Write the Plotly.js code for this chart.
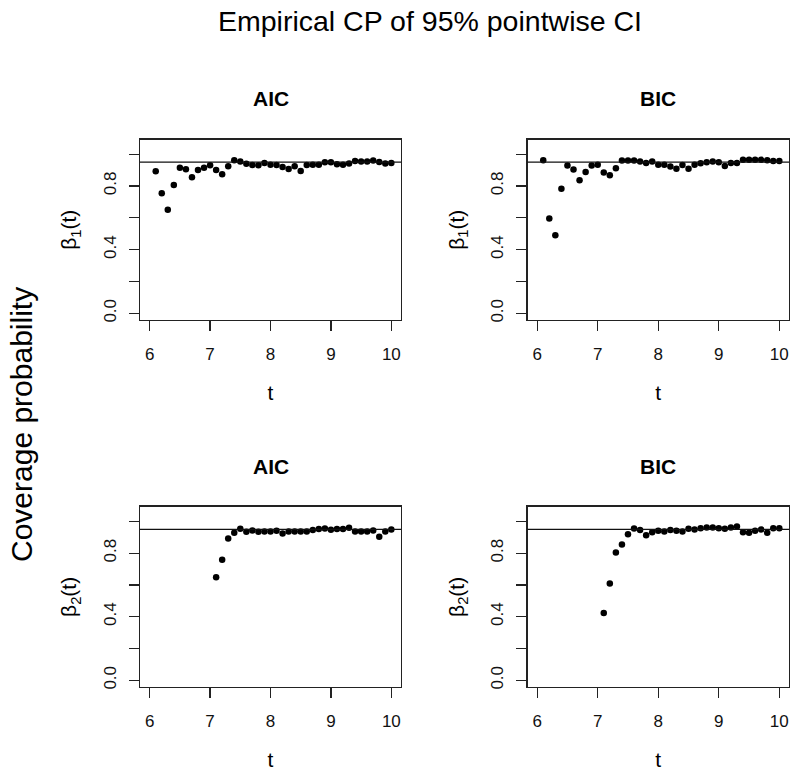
<!DOCTYPE html>
<html>
<head>
<meta charset="utf-8">
<script src="https://cdn.plot.ly/plotly-3.0.1.min.js"></script>
<style>html,body{margin:0;padding:0;background:#fff;}#chart{width:800px;height:779px;}</style>
</head>
<body>
<div id="chart"></div>
<script>
// t grids
var tAll = [6.1,6.2,6.3,6.4,6.5,6.6,6.7,6.8,6.9,7.0,7.1,7.2,7.3,7.4,7.5,7.6,7.7,7.8,7.9,8.0,
            8.1,8.2,8.3,8.4,8.5,8.6,8.7,8.8,8.9,9.0,9.1,9.2,9.3,9.4,9.5,9.6,9.7,9.8,9.9,10.0];
var tLate = [7.1,7.2,7.3,7.4,7.5,7.6,7.7,7.8,7.9,8.0,8.1,8.2,8.3,8.4,8.5,8.6,8.7,8.8,8.9,9.0,
             9.1,9.2,9.3,9.4,9.5,9.6,9.7,9.8,9.9,10.0];

// empirical coverage probabilities
var beta1AIC = [0.892,0.754,0.651,0.806,0.915,0.905,0.855,0.901,0.915,0.930,0.901,0.873,0.924,0.962,0.953,0.939,0.932,0.930,0.945,0.934,
                0.932,0.920,0.907,0.924,0.894,0.932,0.934,0.934,0.949,0.949,0.936,0.934,0.941,0.957,0.953,0.953,0.960,0.951,0.941,0.945];
var beta1BIC = [0.962,0.596,0.491,0.783,0.928,0.903,0.836,0.888,0.928,0.934,0.884,0.867,0.911,0.960,0.960,0.960,0.953,0.945,0.953,0.934,
                0.934,0.922,0.909,0.932,0.909,0.934,0.943,0.949,0.953,0.949,0.926,0.945,0.945,0.964,0.964,0.964,0.964,0.962,0.957,0.957];
var beta2AIC = [0.649,0.758,0.892,0.928,0.953,0.934,0.943,0.934,0.936,0.936,0.940,0.924,0.936,0.936,0.936,0.936,0.945,0.951,0.955,0.947,
                0.951,0.951,0.959,0.936,0.936,0.936,0.943,0.903,0.936,0.949];
var beta2BIC = [0.424,0.609,0.804,0.854,0.919,0.955,0.945,0.913,0.932,0.940,0.936,0.945,0.940,0.936,0.953,0.949,0.957,0.961,0.961,0.957,
                0.953,0.961,0.968,0.932,0.928,0.940,0.949,0.928,0.957,0.957];

var nominal = 0.95;
var panelTitles = ["AIC","BIC","AIC","BIC"];
var xLabel = "t";
var yLabels = ["β<sub>1</sub>(t)","β<sub>1</sub>(t)","β<sub>2</sub>(t)","β<sub>2</sub>(t)"];
var xTickVals = [6,7,8,9,10];
var yTickVals = [0,0.4,0.8];
var yTickText = ["0.0","0.4","0.8"];

var FONT = "Liberation Sans, Arial, Helvetica, sans-serif";
var W = 800, H = 779;
var series = [[tAll,beta1AIC],[tAll,beta1BIC],[tLate,beta2AIC],[tLate,beta2BIC]];

// panel pixel boxes [left,right,top,bottom]
var boxes = [[140,401,139.5,320],[527.5,789,139.5,320],[140,401,506.7,687],[527.5,789,506.7,687]];

var traces = [];
var layout = {
  width: W, height: H,
  margin: {l:0,r:0,t:0,b:0},
  paper_bgcolor: "#fff", plot_bgcolor: "#fff",
  showlegend: false,
  font: {family: FONT, color: "#000"},
  shapes: [], annotations: []
};

series.forEach(function(s, i){
  var k = i === 0 ? "" : String(i+1);
  traces.push({
    type: "scatter", mode: "markers",
    x: s[0], y: s[1],
    xaxis: "x"+k, yaxis: "y"+k,
    marker: {color: "#000", size: 6.5},
    hoverinfo: "x+y"
  });
  var b = boxes[i];
  layout["xaxis"+k] = {
    domain: [b[0]/W, b[1]/W], anchor: "y"+k,
    range: [5.84, 10.16], tickvals: xTickVals,
    ticks: "outside", ticklen: 10, tickwidth: 1.2, tickcolor: "#222",
    showline: true, mirror: true, linecolor: "#222", linewidth: 1.3,
    showgrid: false, zeroline: false,
    tickfont: {size: 17, family: FONT, color: "#111"},
    ticklabelstandoff: 8,
    title: {text: xLabel, font: {size: 21, family: FONT, color: "#000"}, standoff: 22}
  };
  layout["yaxis"+k] = {
    domain: [1 - b[3]/H, 1 - b[2]/H], anchor: "x"+k,
    range: [-0.042, 1.092], tickvals: yTickVals, ticktext: yTickText,
    tickangle: -90,
    ticks: "outside", ticklen: 10, tickwidth: 1.2, tickcolor: "#222",
    minor: {tick0: 0, dtick: 0.2, ticks: "outside", ticklen: 10, tickwidth: 1.2, tickcolor: "#222", showgrid: false},
    showline: true, mirror: true, linecolor: "#222", linewidth: 1.3,
    showgrid: false, zeroline: false,
    tickfont: {size: 17, family: FONT, color: "#111"},
    ticklabelstandoff: 6,
    title: {text: yLabels[i], font: {size: 21, family: FONT, color: "#000"}, standoff: 18}
  };
  layout.shapes.push({
    type: "line", xref: "x"+k+" domain", yref: "y"+k,
    x0: 0, x1: 1, y0: nominal, y1: nominal,
    line: {color: "#111", width: 1.3}
  });
  var cx = (b[0]+b[1])/2/W;
  // panel title
  layout.annotations.push({
    xref: "paper", yref: "paper", x: cx, y: 1 - (b[2]-40.5)/H,
    text: "<b>"+panelTitles[i]+"</b>", showarrow: false,
    xanchor: "center", yanchor: "middle",
    font: {size: 21, family: FONT, color: "#000"}
  });
});

layout.annotations.push({
  xref: "paper", yref: "paper", x: 430/W, y: 1 - 21/H,
  text: "Empirical CP of 95% pointwise CI", showarrow: false,
  xanchor: "center", yanchor: "middle",
  font: {size: 28.5, family: FONT, color: "#000"}
});
layout.annotations.push({
  xref: "paper", yref: "paper", x: 21/W, y: 1 - 425/H,
  text: "Coverage probability", showarrow: false, textangle: -90,
  xanchor: "center", yanchor: "middle",
  font: {size: 30, family: FONT, color: "#000"}
});

Plotly.newPlot("chart", traces, layout, {displayModeBar: false, staticPlot: true});
</script>
</body>
</html>
